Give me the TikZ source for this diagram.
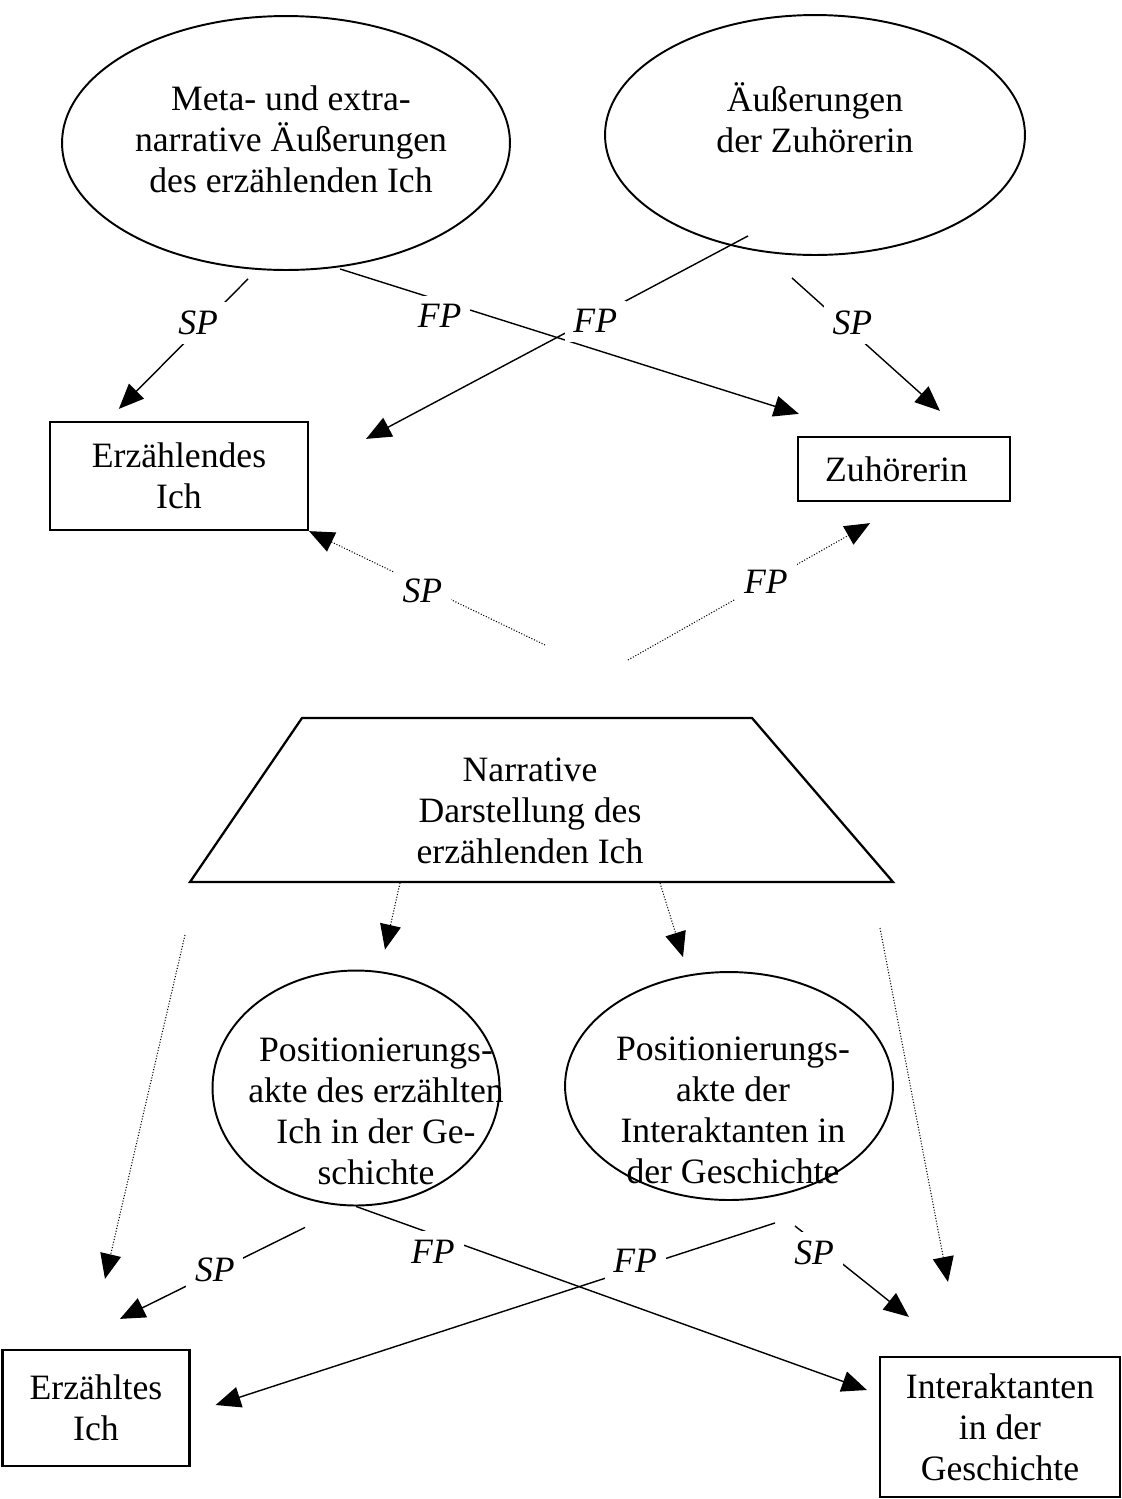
\documentclass[tikz,border=0pt]{standalone}
\usepackage{fontspec}
\setmainfont{Liberation Serif}
\usetikzlibrary{positioning}
\usetikzlibrary{calc}
\usetikzlibrary{arrows.meta}
\usetikzlibrary{shapes.geometric}
\tikzset{
  box/.style    = { rectangle, draw, line width=1.3pt, align=center, inner sep=0pt },
  oval/.style   = { ellipse, draw, line width=1.1pt, inner sep=0pt },
  etext/.style  = { align=center },
  conn/.style   = { line width=0.8pt },
  dots/.style   = { densely dotted, line width=0.6pt },
  lbl/.style    = { fill=white, font=\fontsize{20.3}{23.3}\selectfont\itshape, inner sep=5pt },
}

\begin{document}
\begin{tikzpicture}[
  x=0.02cm, y=-0.02cm,
  >={Triangle[length=0.5cm,width=0.42cm]},
  font=\fontsize{20.3}{23.3}\selectfont
]
  \useasboundingbox (0,0) rectangle (1122,1499);

  % upper level
  \node (meta)   [oval, minimum width=8.96cm, minimum height=5.08cm,
                  label={[etext,xshift=.1cm,yshift=.08cm]center:Meta- und extra-\\narrative Äußerungen\\des erzählenden Ich}] at (286,143) {};
  \node (zuhaeu) [oval, minimum width=8.4cm, minimum height=4.8cm,
                  label={[etext,yshift=.34cm]center:Äußerungen\\der Zuhörerin}] at (815,135) {};
  \node (erzich) [box, minimum width=5.16cm, minimum height=2.16cm] at (179,476) {Erzählendes\\Ich};
  \node (zuh)    [box, minimum width=4.24cm, minimum height=1.28cm] at (904,469) {\hspace*{-.3cm}Zuhörerin};

  % narrative
  \node (narr) [align=center] at (530,811) {Narrative\\Darstellung des\\erzählenden Ich};
  \draw [line width=1.3pt, line join=miter]
    ($(narr)+(-340,71)$) -- ($(narr)+(-228,-93)$) -- ($(narr)+(222,-93)$) -- ($(narr)+(363,71)$) -- cycle;

  % lower level
  \node (posich) [oval, minimum width=5.74cm, minimum height=4.7cm,
                  label={[etext,xshift=.4cm,yshift=-.46cm]center:Positionierungs-\\akte des erzählten\\Ich in der Ge-\\schichte}] at (356,1088) {};
  \node (posint) [oval, minimum width=6.56cm, minimum height=4.56cm,
                  label={[etext,xshift=.08cm,yshift=-.48cm]center:Positionierungs-\\akte der\\Interaktanten in\\der Geschichte}] at (729,1086) {};
  \node (erztes) [box, minimum width=3.74cm, minimum height=2.32cm] at (96,1408) {Erzähltes\\Ich};
  \node (inter)  [box, minimum width=4.8cm, minimum height=2.8cm] at (1000,1427) {Interaktanten\\in der\\Geschichte};

  \draw [conn,->] ($(meta.south)+(-38,8)$)    -- node [lbl,pos=.34,xshift=-.12cm] {SP} ($(erzich.north west)+(70,-12)$);
  \draw [conn,->] ($(meta.south)+(54,-2)$)    -- node [lbl,pos=.25,xshift=-.3cm,yshift=-.22cm] {FP} ($(zuh.north west)+(2,-22)$);
  \draw [conn,->] ($(zuhaeu.south)+(-67,-20)$) -- node [lbl,pos=.40,yshift=-.08cm] {FP} ($(erzich.north east)+(57,18)$);
  \draw [conn,->] ($(zuhaeu.south)+(-23,22)$) -- node [lbl,pos=.34,xshift=.2cm] {SP} ($(zuh.north)+(36,-25)$);

  \draw [dots,->] ($(narr.center)+(15,-166)$)  -- node [lbl,pos=.52,yshift=-.1cm] {SP} (erzich.south east);
  \draw [dots,->] ($(narr.center)+(98,-151)$) -- node [lbl,pos=.57] {FP} ($(zuh.south)+(-34,21)$);

  \draw [dots,->] ($(narr.center)+(-130,72)$) -- ($(posich.north)+(29,-20)$);
  \draw [dots,->] ($(narr.center)+(130,72)$)  -- ($(posint.north)+(-46,-14)$);
  \draw [dots,->] ($(narr.center)+(-345,124)$) -- ($(erztes.north)+(9,-70)$);
  \draw [dots,->] ($(narr.center)+(350,117)$) -- ($(inter.north)+(-52,-74)$);

  \draw [conn,->] ($(posich.south)+(-51,21)$) -- node [lbl,pos=.46,xshift=-.1cm] {SP} ($(erztes.north)+(24,-30)$);
  \draw [conn,->] (posich.south)              -- node [lbl,pos=.18,xshift=-.3cm,yshift=-.24cm] {FP} ($(inter.west)+(-12,-37)$);
  \draw [conn,->] ($(posint.south)+(46,22)$)  -- node [lbl,pos=.25,yshift=.15cm] {FP} ($(erztes.east)+(25,-3)$);
  \draw [conn,->] ($(posint.south)+(66,25)$)  -- node [lbl,pos=.30,xshift=-.3cm] {SP} ($(inter.north west)+(30,-39)$);
\end{tikzpicture}
\end{document}
